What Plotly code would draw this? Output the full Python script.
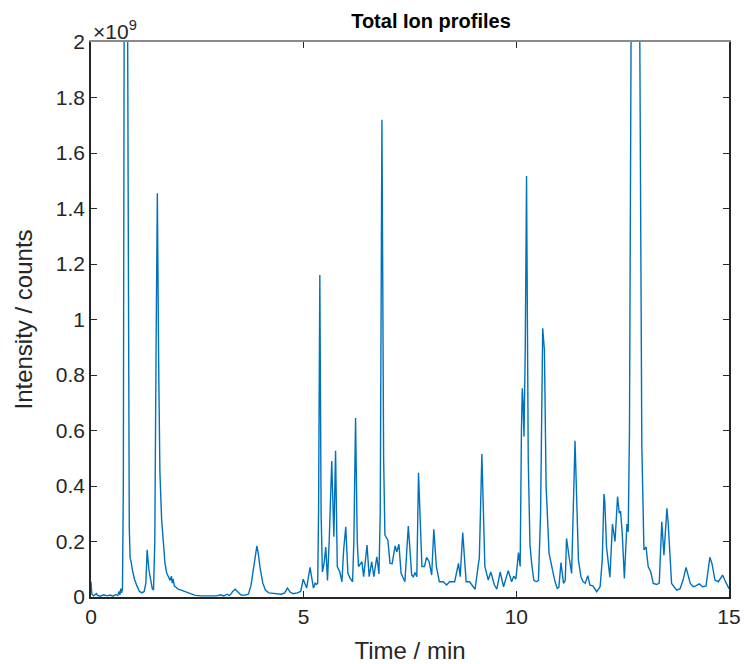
import plotly.graph_objects as go

# Retention time (min) and total ion intensity (x 1e9 counts)
time_min = [
    0.00, 0.02, 0.06, 0.13, 0.15, 0.22, 0.30, 0.38, 0.45, 0.52, 0.58, 0.63, 0.66, 0.68, 0.70, 0.72, 0.74,
    0.76, 0.78, 0.82, 0.86, 0.88, 0.90, 0.92, 0.94, 0.97, 1.02, 1.08, 1.14, 1.20, 1.25, 1.29,
    1.32, 1.36, 1.40, 1.44, 1.47, 1.50, 1.53, 1.56, 1.59, 1.62, 1.66, 1.70, 1.74, 1.78, 1.82, 1.86,
    1.89, 1.91, 1.93, 1.96, 2.00, 2.05, 2.12, 2.20, 2.28, 2.35, 2.45, 2.60, 2.80, 2.95, 3.05, 3.12,
    3.20, 3.25, 3.30, 3.33, 3.39, 3.45, 3.52, 3.60, 3.70, 3.76, 3.82, 3.88, 3.90, 3.93, 3.98, 4.04,
    4.10, 4.18, 4.30, 4.40, 4.48, 4.55, 4.62, 4.68, 4.75, 4.85, 4.93, 4.99, 5.03, 5.07, 5.15, 5.19,
    5.23, 5.27, 5.30, 5.33, 5.35, 5.38, 5.41, 5.44, 5.48, 5.52, 5.56, 5.60, 5.64, 5.66, 5.71, 5.75,
    5.79, 5.85, 5.90, 5.94, 5.99, 6.04, 6.09, 6.15, 6.18, 6.22, 6.26, 6.29, 6.37, 6.41, 6.49, 6.54,
    6.60, 6.65, 6.72, 6.77, 6.80, 6.84, 6.88, 6.91, 6.98, 7.03, 7.08, 7.15, 7.19, 7.24, 7.29, 7.38,
    7.46, 7.54, 7.58, 7.62, 7.66, 7.70, 7.78, 7.84, 7.89, 7.95, 8.01, 8.06, 8.12, 8.19, 8.28, 8.36,
    8.43, 8.55, 8.64, 8.68, 8.74, 8.82, 8.90, 9.03, 9.11, 9.13, 9.19, 9.26, 9.34, 9.40, 9.48, 9.54,
    9.62, 9.70, 9.81, 9.89, 9.94, 9.99, 10.05, 10.09, 10.12, 10.14, 10.16, 10.18, 10.21, 10.24, 10.28,
    10.32, 10.36, 10.41, 10.47, 10.52, 10.57, 10.62, 10.66, 10.70, 10.77, 10.85, 10.90, 10.96, 11.00,
    11.05, 11.11, 11.15, 11.18, 11.24, 11.30, 11.38, 11.46, 11.52, 11.57, 11.62, 11.68, 11.73, 11.80,
    11.89, 11.97, 12.02, 12.06, 12.08, 12.12, 12.20, 12.26, 12.32, 12.38, 12.42, 12.45, 12.49, 12.54,
    12.60, 12.63, 12.66, 12.70, 12.80, 12.90, 12.95, 13.00, 13.05, 13.10, 13.16, 13.22, 13.30, 13.36,
    13.42, 13.47, 13.54, 13.57, 13.65, 13.77, 13.85, 13.92, 13.99, 14.09, 14.16, 14.22, 14.30, 14.38,
    14.46, 14.55, 14.60, 14.67, 14.75, 14.85, 14.90, 14.98, 15.00,
]
intensity_e9 = [
    0.055, 0.010, 0.004, 0.012, 0.006, 0.003, 0.008, 0.004, 0.007, 0.003, 0.009, 0.005, 0.020, 0.008, 0.030, 0.015, 0.030,
    0.400, 2.100, 2.600, 2.100, 0.600, 0.250, 0.140, 0.130, 0.100, 0.065, 0.040, 0.020, 0.015, 0.020, 0.050,
    0.170, 0.100, 0.060, 0.030, 0.025, 0.200, 0.900, 1.455, 0.850, 0.450, 0.280, 0.190, 0.120, 0.086, 0.070, 0.060,
    0.075, 0.050, 0.065, 0.040, 0.035, 0.028, 0.025, 0.020, 0.016, 0.010, 0.006, 0.004, 0.005, 0.004, 0.008, 0.004,
    0.010, 0.005, 0.012, 0.020, 0.028, 0.020, 0.008, 0.006, 0.010, 0.040, 0.110, 0.175, 0.184, 0.160, 0.100, 0.050,
    0.025, 0.015, 0.014, 0.012, 0.010, 0.015, 0.032, 0.018, 0.012, 0.015, 0.020, 0.064, 0.045, 0.032, 0.107, 0.060,
    0.032, 0.050, 0.045, 0.050, 0.300, 1.160, 0.300, 0.090, 0.120, 0.180, 0.060, 0.200, 0.470, 0.490, 0.217, 0.527,
    0.110, 0.090, 0.055, 0.170, 0.253, 0.085, 0.068, 0.055, 0.200, 0.645, 0.200, 0.110, 0.127, 0.073, 0.187, 0.073,
    0.127, 0.073, 0.145, 0.083, 0.300, 1.720, 0.500, 0.223, 0.205, 0.121, 0.120, 0.184, 0.163, 0.190, 0.085, 0.055,
    0.256, 0.079, 0.073, 0.088, 0.073, 0.448, 0.110, 0.110, 0.143, 0.127, 0.079, 0.244, 0.110, 0.055, 0.055, 0.043,
    0.055, 0.055, 0.121, 0.073, 0.232, 0.055, 0.055, 0.028, 0.121, 0.140, 0.515, 0.110, 0.061, 0.090, 0.045, 0.028,
    0.090, 0.037, 0.095, 0.055, 0.075, 0.065, 0.160, 0.110, 0.600, 0.752, 0.690, 0.578, 0.900, 1.517, 0.500,
    0.190, 0.121, 0.061, 0.055, 0.060, 0.300, 0.968, 0.890, 0.400, 0.157, 0.097, 0.061, 0.031, 0.035,
    0.124, 0.049, 0.060, 0.211, 0.145, 0.085, 0.563, 0.133, 0.073, 0.055, 0.050, 0.077, 0.043, 0.040,
    0.019, 0.037, 0.133, 0.371, 0.343, 0.181, 0.071, 0.263, 0.200, 0.362, 0.302, 0.310, 0.230, 0.067,
    0.263, 0.235, 0.600, 2.100, 3.600, 2.100, 0.550, 0.170, 0.180, 0.110, 0.090, 0.049, 0.045, 0.050,
    0.271, 0.151, 0.320, 0.266, 0.049, 0.025, 0.030, 0.061, 0.107, 0.049, 0.037, 0.040, 0.047, 0.037,
    0.040, 0.143, 0.120, 0.061, 0.055, 0.079, 0.061, 0.037, 0.030,
]

x_ticks = [0, 5, 10, 15]
y_ticks = [0, 0.2, 0.4, 0.6, 0.8, 1.0, 1.2, 1.4, 1.6, 1.8, 2.0]
y_tick_labels = ["0", "0.2", "0.4", "0.6", "0.8", "1", "1.2", "1.4", "1.6", "1.8", "2"]

AX = "#262626"
FONT = "Liberation Sans, Arial, Helvetica, sans-serif"

fig = go.Figure()
fig.add_trace(go.Scatter(
    x=time_min, y=intensity_e9, mode="lines",
    line=dict(color="#0072BD", width=1.4), showlegend=False, hoverinfo="skip",
))
# invisible trace for the top axis
fig.add_trace(go.Scatter(x=[0, 15], y=[0, 0], xaxis="x2", mode="lines",
                         line=dict(width=0), showlegend=False, hoverinfo="skip"))

fig.update_layout(
    width=744, height=664,
    margin=dict(l=91, r=15, t=42, b=67),
    paper_bgcolor="white", plot_bgcolor="white",
    font=dict(family=FONT, color=AX, size=21),
    title=dict(text="<b>Total Ion profiles</b>", x=431 / 744, xanchor="center",
               y=1 - 21 / 664, yanchor="middle", font=dict(size=20, color="#000000", family=FONT)),
    xaxis=dict(range=[0, 15], tickvals=x_ticks, ticks="inside", ticklen=6, tickwidth=1.3,
               tickcolor=AX, showline=True, linecolor=AX, linewidth=1.5, mirror=False,
               showgrid=False, zeroline=False, tickfont=dict(size=21, color=AX), automargin=False,
               title=dict(text="Time / min", font=dict(size=24, color=AX), standoff=16)),
    xaxis2=dict(range=[0, 15], overlaying="x", side="top", tickvals=x_ticks, ticks="inside",
                ticklen=6, tickwidth=1.3, tickcolor=AX, showline=True, linecolor="#8a8a8a",
                linewidth=1.5, showticklabels=False, showgrid=False, zeroline=False, automargin=False),
    yaxis=dict(range=[0, 2], tickvals=y_ticks, ticktext=y_tick_labels, ticks="inside", ticklen=6,
               tickwidth=1.3, tickcolor=AX, showline=True, linecolor=AX, linewidth=1.5,
               mirror="ticks", showgrid=False, zeroline=False, tickfont=dict(size=21, color=AX),
               automargin=False,
               title=dict(text="Intensity / counts", font=dict(size=24, color=AX), standoff=16)),
    annotations=[dict(text="×10<sup>9</sup>", xref="paper", yref="paper", x=0, y=1,
                      xanchor="left", yanchor="bottom", showarrow=False, xshift=0, yshift=-3,
                      font=dict(size=21, color=AX, family=FONT))],
)

fig.write_html("out.html")
